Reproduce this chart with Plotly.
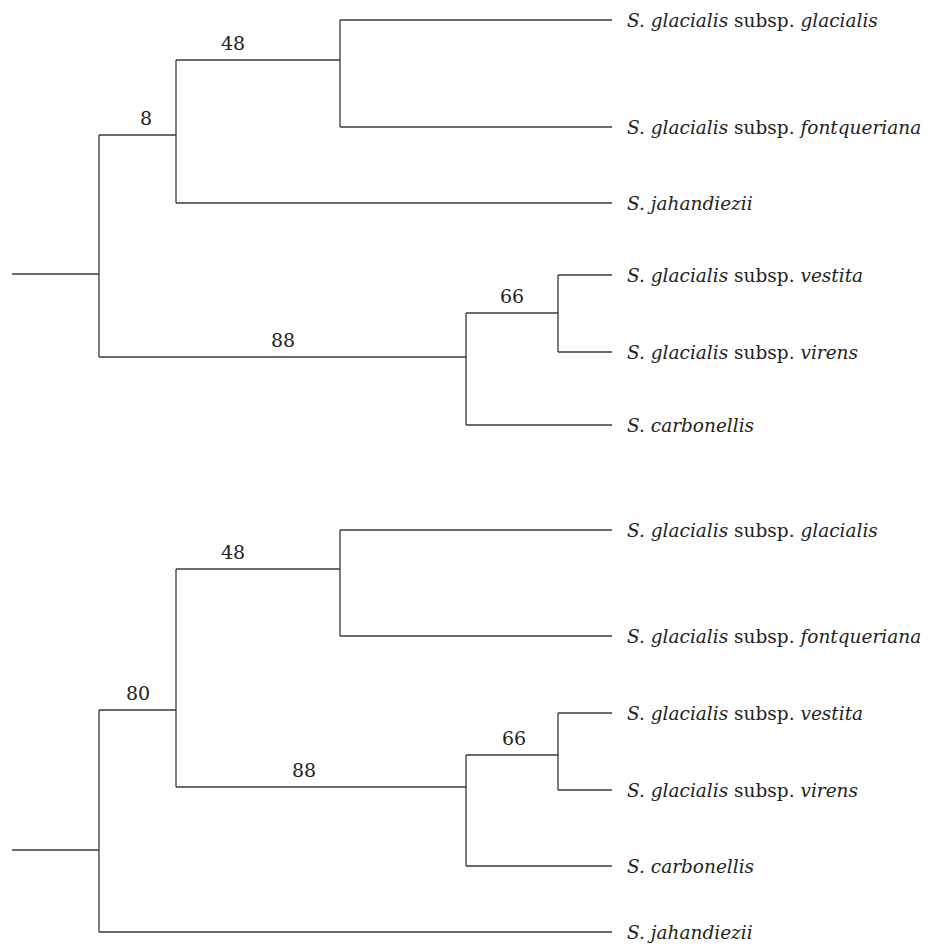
import plotly.graph_objects as go

# ---------------- data ----------------
# Top tree
top_node_id = ["t_root", "t_n8", "t_n48", "t_n88", "t_n66"]
top_node_parent = [None, "t_root", "t_n8", "t_root", "t_n88"]
top_node_x = [99, 176, 340, 466, 558]
top_node_y = [274, 135, 60, 357, 313]
top_support = ["", "8", "48", "88", "66"]
top_support_x = [None, 146, 233, 283, 512]

top_leaf_genus = ["S. glacialis", "S. glacialis", "S. jahandiezii",
                  "S. glacialis", "S. glacialis", "S. carbonellis"]
top_leaf_subsp = ["glacialis", "fontqueriana", "", "vestita", "virens", ""]
top_leaf_parent = ["t_n48", "t_n48", "t_n8", "t_n66", "t_n66", "t_n88"]
top_leaf_y = [20, 127, 203, 275, 352, 425]

# Bottom tree
bot_node_id = ["b_root", "b_n80", "b_n48", "b_n88", "b_n66"]
bot_node_parent = [None, "b_root", "b_n80", "b_n80", "b_n88"]
bot_node_x = [99, 176, 340, 466, 558]
bot_node_y = [850, 710, 569, 787, 755]
bot_support = ["", "80", "48", "88", "66"]
bot_support_x = [None, 138, 233, 304, 514]

bot_leaf_genus = ["S. glacialis", "S. glacialis", "S. glacialis",
                  "S. glacialis", "S. carbonellis", "S. jahandiezii"]
bot_leaf_subsp = ["glacialis", "fontqueriana", "vestita", "virens", "", ""]
bot_leaf_parent = ["b_n48", "b_n48", "b_n66", "b_n66", "b_n88", "b_root"]
bot_leaf_y = [530, 636, 713, 790, 866, 932]

leaf_x = 612       # tip position of all leaves
stub_x = 12        # start of the root stub

# ---------------- drawing ----------------
LINE = "#3a3a3a"
FONT = "DejaVu Serif"
FS = 18.5

fig = go.Figure()
annotations = []


def add_tree(node_id, node_parent, node_x, node_y, support, support_x,
             leaf_genus, leaf_subsp, leaf_parent, leaf_y):
    pos = {n: (x, y) for n, x, y in zip(node_id, node_x, node_y)}
    children = {n: [] for n in node_id}
    xs, ys = [], []
    # internal node branches
    for n, p in zip(node_id, node_parent):
        if p is None:
            x, y = pos[n]
            xs += [stub_x, x, None]
            ys += [y, y, None]
        else:
            children[p].append(pos[n][1])
            xs += [pos[p][0], pos[n][0], None]
            ys += [pos[n][1], pos[n][1], None]
    # leaf branches
    for p, y in zip(leaf_parent, leaf_y):
        children[p].append(y)
        xs += [pos[p][0], leaf_x, None]
        ys += [y, y, None]
    # verticals
    for n in node_id:
        cy = children[n]
        xs += [pos[n][0], pos[n][0], None]
        ys += [min(cy), max(cy), None]
    fig.add_trace(go.Scatter(x=xs, y=ys, mode="lines",
                             line=dict(color=LINE, width=1.3),
                             hoverinfo="skip", showlegend=False))
    # support values
    for n, s, sx in zip(node_id, support, support_x):
        if s:
            annotations.append(dict(x=sx, y=pos[n][1], text=s, showarrow=False,
                                    xanchor="center", yanchor="bottom", yshift=4,
                                    font=dict(family=FONT, size=FS + 0.5, color="#222")))
    # leaf labels
    for g, sp, y in zip(leaf_genus, leaf_subsp, leaf_y):
        txt = f"<i>{g}</i>" + (f" subsp. <i>{sp}</i>" if sp else "")
        annotations.append(dict(x=leaf_x, y=y, text=txt, showarrow=False,
                                xanchor="left", yanchor="middle", xshift=13,
                                font=dict(family=FONT, size=FS, color="#222")))


add_tree(top_node_id, top_node_parent, top_node_x, top_node_y, top_support,
         top_support_x, top_leaf_genus, top_leaf_subsp, top_leaf_parent, top_leaf_y)
add_tree(bot_node_id, bot_node_parent, bot_node_x, bot_node_y, bot_support,
         bot_support_x, bot_leaf_genus, bot_leaf_subsp, bot_leaf_parent, bot_leaf_y)

# the page body has an 8 px default margin, so the figure is 8 px smaller
# and its axes start at 8 to keep 1 unit = 1 screen pixel
fig.update_layout(
    width=929, height=939,
    margin=dict(l=0, r=0, t=0, b=0),
    paper_bgcolor="white", plot_bgcolor="white",
    xaxis=dict(range=[8, 937], visible=False, fixedrange=True),
    yaxis=dict(range=[947, 8], visible=False, fixedrange=True),
    annotations=annotations,
    showlegend=False,
)

fig.write_html("out.html")
